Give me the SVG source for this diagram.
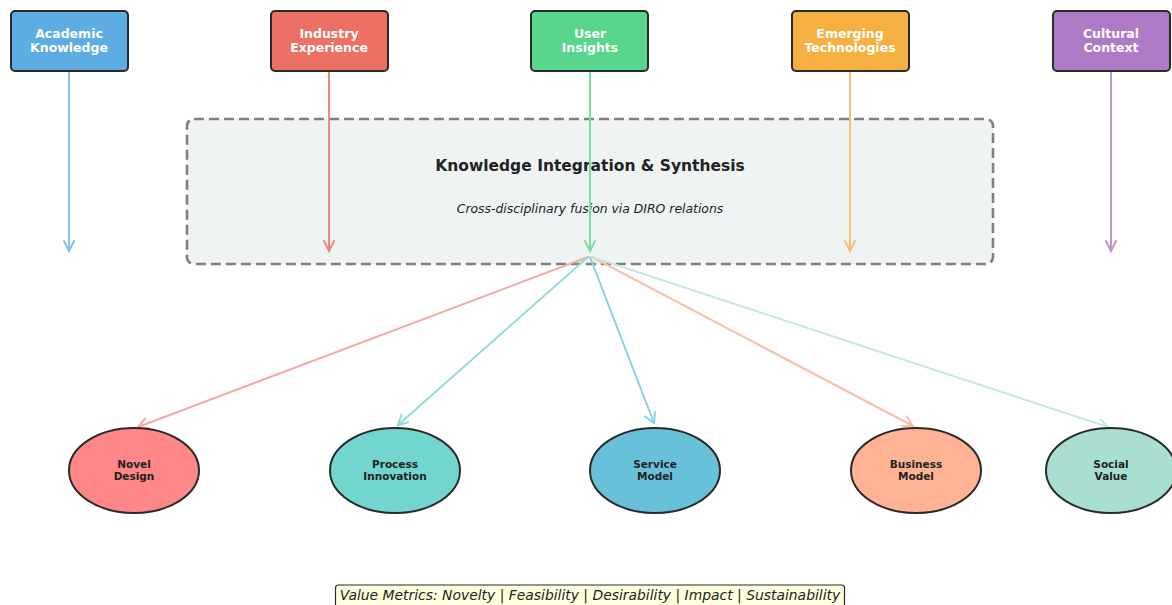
<svg xmlns="http://www.w3.org/2000/svg" width="1172" height="605" viewBox="0 0 1172 605">
<style>
.src{stroke:#2a2a2a;stroke-width:2}
.srct{font-family:"DejaVu Sans",sans-serif;font-weight:bold;font-size:12.5px;fill:#ffffff;text-anchor:middle}
.out{stroke:#2a2a2a;stroke-width:2}
.outt{font-family:"DejaVu Sans",sans-serif;font-weight:bold;font-size:10.5px;fill:#222;text-anchor:middle}
.ln{fill:none;stroke-width:2;stroke-linecap:round}
.hd{fill:none;stroke-width:2;stroke-linecap:round;stroke-linejoin:miter}
</style>
<rect width="1172" height="605" fill="#ffffff"/>
<g id="hub">
<rect x="187" y="119" width="806" height="145" rx="7" fill="#f0f3f4" stroke="#808080" stroke-width="2.6" stroke-dasharray="10,5"/>
<text x="590" y="170.5" font-family="DejaVu Sans,sans-serif" font-weight="bold" font-size="15.5px" fill="#222" text-anchor="middle">Knowledge Integration &amp; Synthesis</text>
<text x="590" y="213" font-family="DejaVu Sans,sans-serif" font-style="italic" font-size="12.4px" fill="#222" text-anchor="middle">Cross-disciplinary fusion via DIRO relations</text>
</g>
<g id="connectors">
<g stroke="#85c1e9"><path class="ln" d="M69 71V251"/><path class="hd" d="M64 241L69 251L74 241"/></g>
<g stroke="#ec8a7e"><path class="ln" d="M329 71V251"/><path class="hd" d="M324 241L329 251L334 241"/></g>
<g stroke="#7ddc9f"><path class="ln" d="M590 71V251"/><path class="hd" d="M585 241L590 251L595 241"/></g>
<g stroke="#f6c07a"><path class="ln" d="M850 71V251"/><path class="hd" d="M845 241L850 251L855 241"/></g>
<g stroke="#c192d4"><path class="ln" d="M1111 71V251"/><path class="hd" d="M1106 241L1111 251L1116 241"/></g>
<g stroke="#f5a9a6"><path class="ln" d="M588 257L138 427"/><path class="hd" d="M145.1 418.6L138 427L148.9 428.4"/></g>
<g stroke="#92dcd7"><path class="ln" d="M588 257L398 425"/><path class="hd" d="M401.5 414.5L398 425L408.4 422.3"/></g>
<g stroke="#8ad2df"><path class="ln" d="M590 257L654 423"/><path class="hd" d="M645.1 416.6L654 423L654.9 412.1"/></g>
<g stroke="#fbbfa6"><path class="ln" d="M592 257L913 426"/><path class="hd" d="M902 425.7L913 426L906.9 416.4"/></g>
<g stroke="#c5e8df"><path class="ln" d="M592 257L1108 427"/><path class="hd" d="M1097.3 429.3L1108 427L1100.6 419.4"/></g>
</g>
<g id="n-academic"><rect class="src" x="11" y="11" width="117" height="60" rx="4" fill="#5dade2"/><text class="srct" x="69" y="38">Academic</text><text class="srct" x="69" y="52">Knowledge</text></g>
<g id="n-industry"><rect class="src" x="271" y="11" width="117" height="60" rx="4" fill="#ec7063"/><text class="srct" x="329" y="38">Industry</text><text class="srct" x="329" y="52">Experience</text></g>
<g id="n-user"><rect class="src" x="531" y="11" width="117" height="60" rx="4" fill="#58d68d"/><text class="srct" x="590" y="38">User</text><text class="srct" x="590" y="52">Insights</text></g>
<g id="n-emerging"><rect class="src" x="792" y="11" width="117" height="60" rx="4" fill="#f5b041"/><text class="srct" x="850" y="38">Emerging</text><text class="srct" x="850" y="52">Technologies</text></g>
<g id="n-cultural"><rect class="src" x="1053" y="11" width="117" height="60" rx="4" fill="#af7ac5"/><text class="srct" x="1111" y="38">Cultural</text><text class="srct" x="1111" y="52">Context</text></g>
<g id="o-novel"><ellipse class="out" cx="134" cy="470.5" rx="65" ry="42.5" fill="#ff8787"/><text class="outt" x="134" y="467.5">Novel</text><text class="outt" x="134" y="479.5">Design</text></g>
<g id="o-process"><ellipse class="out" cx="395" cy="470.5" rx="65" ry="42.5" fill="#72d6ce"/><text class="outt" x="395" y="467.5">Process</text><text class="outt" x="395" y="479.5">Innovation</text></g>
<g id="o-service"><ellipse class="out" cx="655" cy="470.5" rx="65" ry="42.5" fill="#67c2d9"/><text class="outt" x="655" y="467.5">Service</text><text class="outt" x="655" y="479.5">Model</text></g>
<g id="o-business"><ellipse class="out" cx="916" cy="470.5" rx="65" ry="42.5" fill="#ffb294"/><text class="outt" x="916" y="467.5">Business</text><text class="outt" x="916" y="479.5">Model</text></g>
<g id="o-social"><ellipse class="out" cx="1111" cy="470.5" rx="65" ry="42.5" fill="#a9dfd2"/><text class="outt" x="1111" y="467.5">Social</text><text class="outt" x="1111" y="479.5">Value</text></g>
<g id="metrics"><rect x="335.5" y="585" width="509" height="26" rx="3" fill="#ffffe0" stroke="#2a2a2a" stroke-width="1.2"/><text x="590" y="600" font-family="DejaVu Sans,sans-serif" font-style="italic" font-size="13.9px" fill="#222" text-anchor="middle">Value Metrics: Novelty | Feasibility | Desirability | Impact | Sustainability</text></g>
</svg>
